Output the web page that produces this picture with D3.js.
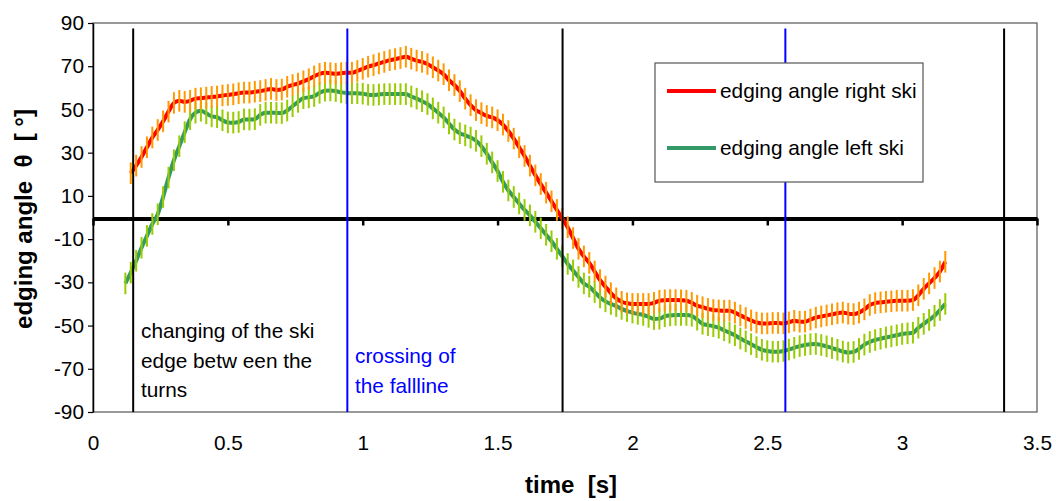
<!DOCTYPE html>
<html>
<head>
<meta charset="utf-8">
<script src="https://cdn.jsdelivr.net/npm/d3@7"></script>
<style>
  html, body { margin: 0; padding: 0; background: #fff; }
  svg { display: block; font-family: "Liberation Sans", Arial, sans-serif; }
</style>
</head>
<body>
<svg id="chart" width="1056" height="501"></svg>
<script>
// ---- data ----
const time = [
  0.12,0.14,0.16,0.18,0.20,0.22,0.24,0.26,0.28,0.30,
  0.32,0.34,0.36,0.38,0.40,0.42,0.44,0.46,0.48,0.50,
  0.52,0.54,0.56,0.58,0.60,0.62,0.64,0.66,0.68,0.70,
  0.72,0.74,0.76,0.78,0.80,0.82,0.84,0.86,0.88,0.90,
  0.92,0.94,0.96,0.98,1.00,1.02,1.04,1.06,1.08,1.10,
  1.12,1.14,1.16,1.18,1.20,1.22,1.24,1.26,1.28,1.30,
  1.32,1.34,1.36,1.38,1.40,1.42,1.44,1.46,1.48,1.50,
  1.52,1.54,1.56,1.58,1.60,1.62,1.64,1.66,1.68,1.70,
  1.72,1.74,1.76,1.78,1.80,1.82,1.84,1.86,1.88,1.90,
  1.92,1.94,1.96,1.98,2.00,2.02,2.04,2.06,2.08,2.10,
  2.12,2.14,2.16,2.18,2.20,2.22,2.24,2.26,2.28,2.30,
  2.32,2.34,2.36,2.38,2.40,2.42,2.44,2.46,2.48,2.50,
  2.52,2.54,2.56,2.58,2.60,2.62,2.64,2.66,2.68,2.70,
  2.72,2.74,2.76,2.78,2.80,2.82,2.84,2.86,2.88,2.90,
  2.92,2.94,2.96,2.98,3.00,3.02,3.04,3.06,3.08,3.10,
  3.12,3.14,3.16
];

const rightSki = [
  null,20.5,24,28,32.5,37,40.5,44.5,49,53,
  54,53.5,54,55,55.2,55.5,55.8,56,56.5,56.7,
  57,57.5,57.8,57.8,58.2,58.5,59,59.5,59,59.2,
  60.5,61.3,62,63,64,65.3,66.5,67,66.8,66.5,
  66.8,67,67,67.8,68.8,69.8,70.5,71.3,72,72.8,
  73.3,73.8,74.4,73.5,72.6,72,71,69.5,68,66.3,
  63.5,61.3,58.5,55,52,49.7,48.3,47,46.3,45,
  43,40,36.5,32.5,28.5,24,19.5,15.5,11.5,7.5,
  3.5,-0.5,-4.5,-9.5,-14.5,-18,-21,-25,-29,-32,
  -35,-37.4,-39,-39.7,-40,-40,-40,-40,-39.5,-38.5,
  -38.3,-38.2,-38.2,-38.3,-38.5,-39.5,-40.8,-41.5,-42.3,-42.8,
  -43,-43.1,-43.1,-44,-45.3,-46.5,-47.6,-48.6,-49,-49,
  -48.8,-48.8,-49,-48.5,-47.8,-48.2,-48.2,-47.2,-46.3,-45.8,
  -45.3,-44.8,-44.3,-44,-44.5,-44.7,-44,-42.5,-40.5,-39.6,
  -39.3,-39,-38.8,-38.5,-38.5,-38.5,-38.2,-36,-33,-30.5,
  -28,-25,-20.5
];

const leftSki = [
  -30.5,-25.5,-20,-14,-8.5,-3,1.5,9.5,18.5,26.5,
  33,39.5,45.5,48.5,49.4,48.2,46.8,46.4,45,44,
  43.9,44.2,45.4,45.3,45.5,47.5,48.5,48.5,48.4,48.3,
  49.5,51.5,53.5,55.2,55.6,56.2,57.7,58.7,58.8,58.5,
  57.9,57.6,57.5,57.5,57.3,56.8,56.7,56.9,57.1,57.1,
  57.1,57.1,57.1,56,55,53.8,52.5,50.5,48.5,46.3,
  43.5,40.7,39,38,37,35.5,33,29.5,25.5,21.5,
  16.5,12.5,9.5,6.5,3.5,1,-2,-5,-8,-11,
  -14.5,-18,-21.5,-24.5,-27.5,-30.5,-32,-34.5,-37,-38.8,
  -40,-41,-42.3,-43.3,-44,-44.6,-45.1,-46,-47,-46.8,
  -45.7,-45.3,-45.1,-45.1,-45.1,-45.5,-47.3,-49.2,-49.8,-50.3,
  -51,-52.2,-53.3,-54.5,-56,-57.3,-58.6,-60,-61.2,-61.8,
  -62.1,-62.1,-61.8,-61.1,-60.3,-59.5,-59,-58.6,-58.5,-59,
  -59.6,-60.4,-61.2,-62,-62.5,-62.2,-60.8,-58.8,-57.6,-56.7,
  -56.1,-55.5,-55,-54.5,-53.9,-53.6,-53.3,-51,-49.2,-47.4,
  -45.5,-42.8,-40
];

const errRight = 5;   // +/- error bar half-length (degrees)
const errLeft = 5;

const seriesNames = ["edging angle right ski", "edging angle left ski"];

const turnChangeTimes = [0.149, 1.741, 3.378];   // black lines
const fallLineTimes = [0.943, 2.567];            // blue lines

const xTicks = [0, 0.5, 1, 1.5, 2, 2.5, 3, 3.5];
const yTicks = [-90, -70, -50, -30, -10, 10, 30, 50, 70, 90];

const xTitle = "time  [s]";
const yTitle = "edging angle  \u03B8  [ \u00B0]";
const annotBlack = ["changing of the ski", "edge betw een the", "turns"];
const annotBlue = ["crossing of", "the fallline"];

// ---- drawing ----
const svg = d3.select("#chart");
const pLeft = 93, pRight = 1037, pTop = 23, pBottom = 412;
const fs = 20.8;

const x = d3.scaleLinear().domain([0, 3.5]).range([pLeft, pRight]);
const y = d3.scaleLinear().domain([-90, 90]).range([pBottom, pTop]);

// plot area border
svg.append("rect")
  .attr("x", pLeft).attr("y", pTop)
  .attr("width", pRight - pLeft).attr("height", pBottom - pTop)
  .attr("fill", "none").attr("stroke", "#555").attr("stroke-width", 1.2);

// y axis
const yAxis = svg.append("g")
  .attr("transform", `translate(${pLeft},0)`)
  .call(d3.axisLeft(y).tickValues(yTicks).tickFormat(d => String(d))
    .tickSize(5).tickPadding(4).tickSizeOuter(0));
yAxis.select(".domain").attr("stroke", "#000").attr("stroke-width", 1.5);
yAxis.selectAll(".tick line").attr("stroke", "#000").attr("stroke-width", 1.2);
yAxis.selectAll("text").attr("font-size", fs).attr("fill", "#000")
  .attr("font-family", "Liberation Sans, Arial, sans-serif");

// x tick labels at the bottom
const xAxisB = svg.append("g")
  .attr("transform", `translate(0,${pBottom})`)
  .call(d3.axisBottom(x).tickValues(xTicks).tickFormat(d => String(d)).tickSize(0).tickPadding(23));
xAxisB.select(".domain").remove();
xAxisB.selectAll("text").attr("font-size", fs).attr("fill", "#000")
  .attr("font-family", "Liberation Sans, Arial, sans-serif");

// zero line (x axis crossing at 0) with tick marks
const xAxis0 = svg.append("g")
  .attr("transform", `translate(0,${y(0)+1})`)
  .call(d3.axisBottom(x).tickValues(xTicks).tickFormat("").tickSize(7).tickSizeOuter(0));
xAxis0.select(".domain").attr("stroke", "#000").attr("stroke-width", 4);
xAxis0.selectAll(".tick line").attr("stroke", "#000").attr("stroke-width", 2.5);

// series
const rows = time.map((t, i) => ({t, r: rightSki[i], l: leftSki[i]}));

const lineR = d3.line().defined(d => d.r != null).x(d => x(d.t)).y(d => y(d.r)).curve(d3.curveMonotoneX);
const lineL = d3.line().defined(d => d.l != null).x(d => x(d.t)).y(d => y(d.l)).curve(d3.curveMonotoneX);

svg.append("path").datum(rows).attr("d", lineL)
  .attr("fill", "none").attr("stroke", "#339966").attr("stroke-width", 4).attr("stroke-linejoin", "round");
svg.append("path").datum(rows).attr("d", lineR)
  .attr("fill", "none").attr("stroke", "#FF0000").attr("stroke-width", 4).attr("stroke-linejoin", "round");

svg.append("g").selectAll("line")
  .data(rows.filter(d => d.l != null)).join("line")
  .attr("x1", d => x(d.t)).attr("x2", d => x(d.t))
  .attr("y1", d => y(d.l - errLeft)).attr("y2", d => y(d.l + errLeft))
  .attr("stroke", "#99CC00").attr("stroke-width", 2);

svg.append("g").selectAll("line")
  .data(rows.filter(d => d.r != null)).join("line")
  .attr("x1", d => x(d.t)).attr("x2", d => x(d.t))
  .attr("y1", d => y(d.r - errRight)).attr("y2", d => y(d.r + errRight))
  .attr("stroke", "#FF9900").attr("stroke-width", 2);

// event lines
svg.append("g").selectAll("line").data(turnChangeTimes).join("line")
  .attr("x1", d => x(d)).attr("x2", d => x(d))
  .attr("y1", y(87.4)).attr("y2", pBottom)
  .attr("stroke", "#000").attr("stroke-width", 2);
svg.append("g").selectAll("line").data(fallLineTimes).join("line")
  .attr("x1", d => x(d)).attr("x2", d => x(d))
  .attr("y1", y(87.4)).attr("y2", pBottom)
  .attr("stroke", "#0000FF").attr("stroke-width", 2);

// annotations
svg.append("g").selectAll("text").data(annotBlack).join("text")
  .attr("x", 141).attr("y", (d, i) => 338 + i * 29.5)
  .attr("font-size", fs).attr("fill", "#000").text(d => d);
svg.append("g").selectAll("text").data(annotBlue).join("text")
  .attr("x", 355).attr("y", (d, i) => 363 + i * 29.5)
  .attr("font-size", fs).attr("fill", "#0000FF").text(d => d);

// legend
const lg = svg.append("g");
lg.append("rect").attr("x", 655).attr("y", 63).attr("width", 268).attr("height", 119)
  .attr("fill", "#fff").attr("stroke", "#555").attr("stroke-width", 1.2);
const legendColors = ["#FF0000", "#339966"];
seriesNames.forEach((name, i) => {
  const ly = 91 + i * 57;
  lg.append("line").attr("x1", 667).attr("x2", 716).attr("y1", ly).attr("y2", ly)
    .attr("stroke", legendColors[i]).attr("stroke-width", 4);
  lg.append("text").attr("x", 720).attr("y", ly + 7).attr("font-size", fs)
    .attr("fill", "#000").text(name);
});

// axis titles
svg.append("text").attr("x", 571).attr("y", 493).attr("text-anchor", "middle")
  .attr("font-size", 24).attr("font-weight", "bold").attr("fill", "#000")
  .style("white-space", "pre").text(xTitle);
svg.append("text").attr("transform", "translate(32,219) rotate(-90)")
  .attr("text-anchor", "middle")
  .attr("font-size", 24).attr("font-weight", "bold").attr("fill", "#000")
  .style("white-space", "pre").text(yTitle);
</script>
</body>
</html>
